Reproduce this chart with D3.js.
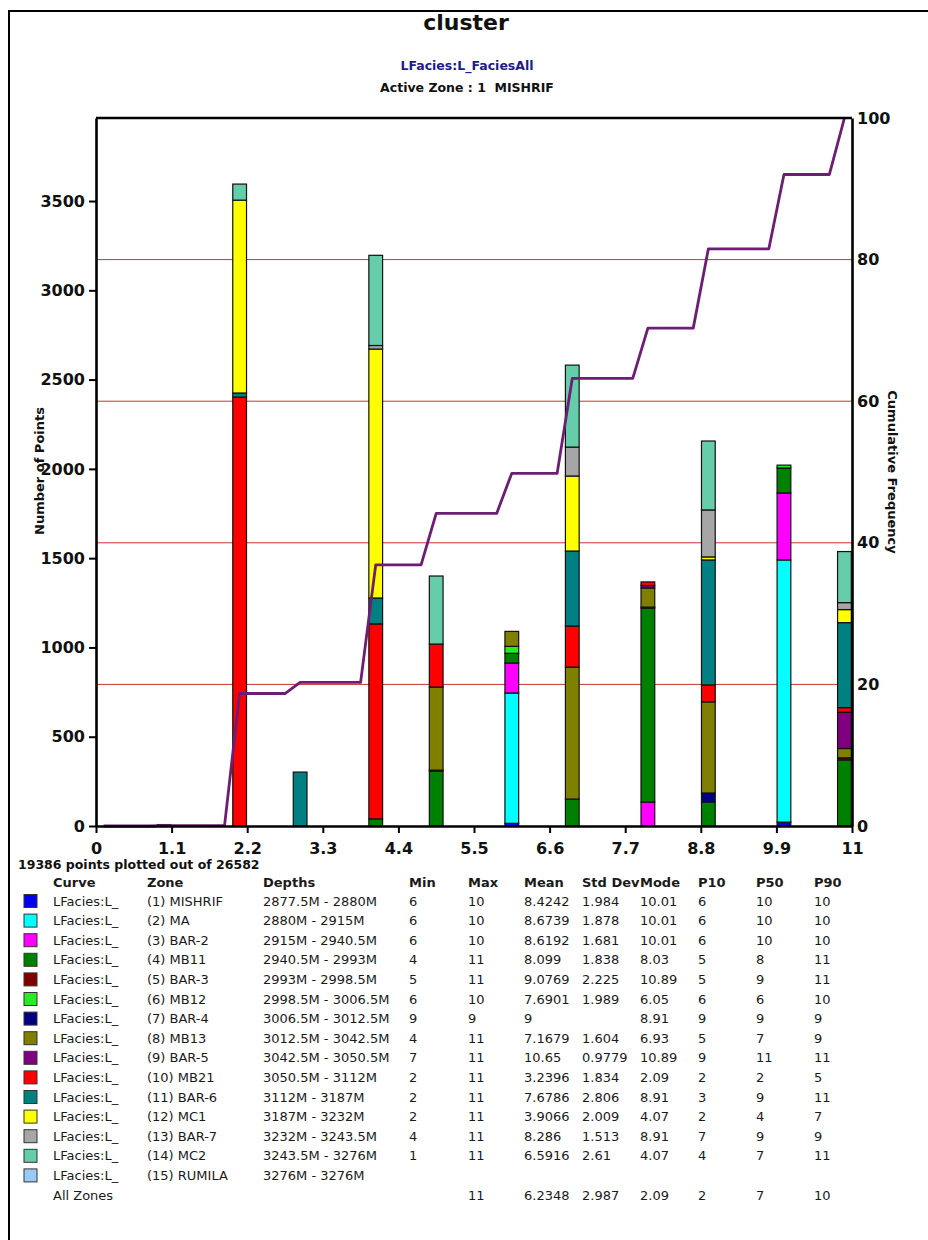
<!DOCTYPE html>
<html>
<head>
<meta charset="utf-8">
<script src="https://cdn.jsdelivr.net/npm/d3@7"></script>
<style>
  body { margin: 0; background: #fff; }
  svg { display: block; }
  text { font-family: "DejaVu Sans", Verdana, sans-serif; }
</style>
</head>
<body>
<svg id="chart" width="928" height="1240"></svg>
<script>
// ---- histogram bins (facies value at bin centre) ----
const binCenters = [0.99, 2.09, 2.97, 4.07, 4.95, 6.05, 6.93, 8.03, 8.91, 10.01, 10.89];
const binWidth = 0.22;

// ---- point counts per zone, one value per bin above ----
const cMISHRIF = [0, 0, 0, 0, 0, 15, 0, 0, 0, 22, 0];
const cMA      = [0, 0, 0, 0, 0, 730, 0, 0, 0, 1468, 0];
const cBAR2    = [0, 0, 0, 0, 0, 168, 0, 134, 0, 375, 0];
const cMB11    = [0, 0, 0, 40, 308, 54, 151, 1086, 134, 140, 370];
const cBAR3    = [0, 0, 0, 0, 5, 0, 0, 6, 0, 0, 12];
const cMB12    = [0, 0, 0, 0, 0, 39, 0, 0, 0, 16, 0];
const cBAR4    = [0, 0, 0, 0, 0, 0, 0, 0, 51, 0, 0];
const cMB13    = [0, 0, 0, 0, 465, 84, 739, 107, 510, 0, 52];
const cBAR5    = [0, 0, 0, 0, 0, 0, 0, 14, 0, 0, 203];
const cMB21    = [0, 2402, 0, 1092, 241, 0, 230, 20, 95, 0, 26];
const cBAR6    = [0, 23, 302, 145, 0, 0, 420, 0, 700, 0, 476];
const cMC1     = [0, 1080, 0, 1394, 0, 0, 420, 0, 17, 0, 73];
const cBAR7    = [0, 0, 0, 20, 0, 0, 162, 0, 263, 0, 39];
const cMC2     = [8, 90, 0, 505, 381, 0, 459, 0, 386, 0, 286];
const cRUMILA  = [0, 0, 0, 0, 0, 0, 0, 0, 0, 0, 0];
const zoneCounts = [cMISHRIF, cMA, cBAR2, cMB11, cBAR3, cMB12, cBAR4, cMB13,
                    cBAR5, cMB21, cBAR6, cMC1, cBAR7, cMC2, cRUMILA];

// ---- zone table ----
const zoneNames = ["(1) MISHRIF", "(2) MA", "(3) BAR-2", "(4) MB11", "(5) BAR-3", "(6) MB12",
  "(7) BAR-4", "(8) MB13", "(9) BAR-5", "(10) MB21", "(11) BAR-6", "(12) MC1", "(13) BAR-7",
  "(14) MC2", "(15) RUMILA"];
const zoneColors = ["#0000ee", "#00ffff", "#ff00ff", "#008000", "#800000", "#22ee22",
  "#000080", "#808000", "#800080", "#ff0000", "#008080", "#ffff00", "#a6a6a6",
  "#66cdaa", "#99ccf5"];
const zoneDepths = ["2877.5M - 2880M", "2880M - 2915M", "2915M - 2940.5M", "2940.5M - 2993M",
  "2993M - 2998.5M", "2998.5M - 3006.5M", "3006.5M - 3012.5M", "3012.5M - 3042.5M",
  "3042.5M - 3050.5M", "3050.5M - 3112M", "3112M - 3187M", "3187M - 3232M",
  "3232M - 3243.5M", "3243.5M - 3276M", "3276M - 3276M"];
const zoneMin  = ["6", "6", "6", "4", "5", "6", "9", "4", "7", "2", "2", "2", "4", "1", ""];
const zoneMax  = ["10", "10", "10", "11", "11", "10", "9", "11", "11", "11", "11", "11", "11", "11", ""];
const zoneMean = ["8.4242", "8.6739", "8.6192", "8.099", "9.0769", "7.6901", "9", "7.1679",
  "10.65", "3.2396", "7.6786", "3.9066", "8.286", "6.5916", ""];
const zoneStd  = ["1.984", "1.878", "1.681", "1.838", "2.225", "1.989", "", "1.604",
  "0.9779", "1.834", "2.806", "2.009", "1.513", "2.61", ""];
const zoneMode = ["10.01", "10.01", "10.01", "8.03", "10.89", "6.05", "8.91", "6.93",
  "10.89", "2.09", "8.91", "4.07", "8.91", "4.07", ""];
const zoneP10  = ["6", "6", "6", "5", "5", "6", "9", "5", "9", "2", "3", "2", "7", "4", ""];
const zoneP50  = ["10", "10", "10", "8", "9", "6", "9", "7", "11", "2", "9", "4", "9", "7", ""];
const zoneP90  = ["10", "10", "10", "11", "11", "10", "9", "9", "11", "5", "11", "7", "9", "11", ""];
const allZonesRow = ["", "11", "6.2348", "2.987", "2.09", "2", "7", "10"];

// ---- axis ticks ----
const xTicks = [0, 1.1, 2.2, 3.3, 4.4, 5.5, 6.6, 7.7, 8.8, 9.9, 11];
const yTicks = [0, 500, 1000, 1500, 2000, 2500, 3000, 3500];
const rTicks = [0, 20, 40, 60, 80, 100];
const gridTicks = [20, 40, 60, 80];

const svg = d3.select("#chart");

// outer frame (left and top edges)
svg.append("path")
  .attr("d", "M9,1240 V11 H928")
  .attr("fill", "none").attr("stroke", "#000").attr("stroke-width", 2);

// titles
svg.append("text").attr("x", 466).attr("y", 30).attr("text-anchor", "middle")
  .attr("font-size", 22).attr("font-weight", "bold").attr("fill", "#111").text("cluster");
svg.append("text").attr("x", 467).attr("y", 70).attr("text-anchor", "middle")
  .attr("font-size", 12.5).attr("font-weight", "bold").attr("fill", "#1c1c8c")
  .text("LFacies:L_FaciesAll");
svg.append("text").attr("x", 467).attr("y", 92).attr("text-anchor", "middle")
  .attr("font-size", 12.5).attr("font-weight", "bold").attr("fill", "#111")
  .text("Active Zone : 1\u00a0\u00a0MISHRIF");

// scales
const x = d3.scaleLinear().domain([0, 11]).range([96, 852]);
const y = d3.scaleLinear().domain([0, 3965]).range([826, 118]);
const yR = d3.scaleLinear().domain([0, 100]).range([826, 118]);

// horizontal guide lines from the cumulative axis
svg.append("g").selectAll("line").data(gridTicks).join("line")
  .attr("x1", x(0)).attr("x2", x(11))
  .attr("y1", d => yR(d)).attr("y2", d => yR(d))
  .attr("stroke", "#c83434").attr("stroke-width", 1);

// stacked bars, stacked in zone order
const rows = binCenters.map((c, i) => {
  const r = { center: c };
  zoneCounts.forEach((arr, k) => { r[k] = arr[i]; });
  return r;
});
const stack = d3.stack().keys(d3.range(zoneCounts.length));
const series = stack(rows);
const barHalf = 0.1;

const barG = svg.append("g");
series.forEach((s, k) => {
  barG.selectAll(null)
    .data(s.filter(d => d[1] - d[0] > 0))
    .join("rect")
    .attr("x", d => x(d.data.center - barHalf))
    .attr("width", d => x(d.data.center + barHalf) - x(d.data.center - barHalf))
    .attr("y", d => y(d[1]))
    .attr("height", d => y(d[0]) - y(d[1]))
    .attr("fill", zoneColors[k])
    .attr("stroke", "#111").attr("stroke-width", 1.2);
});

// cumulative frequency, connecting bin centres
const totals = binCenters.map((c, i) => d3.sum(zoneCounts, arr => arr[i]));
const grand = d3.sum(totals);
const cumPts = [[binWidth / 2, 0]];
let running = 0;
binCenters.forEach((c, i) => {
  const prev = running / grand * 100;
  cumPts.push([c - binWidth, prev]);
  running += totals[i];
  cumPts.push([c, running / grand * 100]);
});
svg.append("path")
  .datum(cumPts)
  .attr("fill", "none")
  .attr("stroke", "#6e1d74")
  .attr("stroke-width", 2.8)
  .attr("stroke-linejoin", "round")
  .attr("d", d3.line().x(d => x(d[0])).y(d => yR(d[1])));

// axes
function styleAxis(g) {
  g.select(".domain").attr("stroke", "#000").attr("stroke-width", 2.6);
  g.selectAll(".tick line").attr("stroke", "#000").attr("stroke-width", 2);
  g.selectAll(".tick text").attr("font-size", 16).attr("font-weight", "bold")
    .attr("fill", "#111").attr("font-family", "DejaVu Sans, Verdana, sans-serif");
}
svg.append("g").attr("transform", "translate(0,826)")
  .call(d3.axisBottom(x).tickValues(xTicks).tickFormat(d3.format("~g"))
    .tickSize(7).tickSizeOuter(0).tickPadding(10))
  .call(styleAxis);
svg.append("g").attr("transform", "translate(96,0)")
  .call(d3.axisLeft(y).tickValues(yTicks).tickFormat(d3.format("d"))
    .tickSize(7).tickSizeOuter(0).tickPadding(4))
  .call(styleAxis);
svg.append("g").attr("transform", "translate(852,0)")
  .call(d3.axisRight(yR).tickValues(rTicks).tickFormat(d3.format("d"))
    .tickSize(0).tickSizeOuter(0).tickPadding(5))
  .call(styleAxis);
// top frame line of the plot
svg.append("line").attr("x1", x(0)).attr("x2", x(11)).attr("y1", 118).attr("y2", 118)
  .attr("stroke", "#000").attr("stroke-width", 2.6);

// axis titles
svg.append("text").attr("transform", "translate(44,471) rotate(-90)")
  .attr("text-anchor", "middle").attr("font-size", 13).attr("font-weight", "bold")
  .attr("fill", "#111").text("Number of Points");
svg.append("text").attr("transform", "translate(888,472) rotate(90)")
  .attr("text-anchor", "middle").attr("font-size", 13).attr("font-weight", "bold")
  .attr("fill", "#111").text("Cumulative Frequency");

// points summary
svg.append("text").attr("x", 18).attr("y", 869)
  .attr("font-size", 12.5).attr("font-weight", "bold").attr("fill", "#111")
  .text("19386 points plotted out of 26582");

// statistics table
const colX = [53, 147, 263, 409, 468, 524, 582, 640, 698, 756, 814];
const headers = ["Curve", "Zone", "Depths", "Min", "Max", "Mean", "Std Dev", "Mode", "P10", "P50", "P90"];
const tbl = svg.append("g").attr("font-size", 13).attr("fill", "#1a1a1a");
tbl.selectAll("text.h").data(headers).join("text")
  .attr("class", "h").attr("x", (d, i) => colX[i]).attr("y", 887)
  .attr("font-weight", "bold").text(d => d);

const rowY = i => 901 + i * 19.6;
zoneNames.forEach((name, i) => {
  const cy = rowY(i);
  tbl.append("rect").attr("x", 24).attr("y", cy - 6.5).attr("width", 13).attr("height", 13)
    .attr("fill", zoneColors[i]).attr("stroke", "#333").attr("stroke-width", 1);
  const cells = ["LFacies:L_", name, zoneDepths[i], zoneMin[i], zoneMax[i], zoneMean[i],
    zoneStd[i], zoneMode[i], zoneP10[i], zoneP50[i], zoneP90[i]];
  cells.forEach((t, j) => {
    if (t === "") return;
    tbl.append("text").attr("x", colX[j]).attr("y", cy + 4.5).text(t);
  });
});
const lastY = rowY(zoneNames.length);
tbl.append("text").attr("x", colX[0]).attr("y", lastY + 4.5).text("All Zones");
allZonesRow.forEach((t, j) => {
  if (t === "") return;
  tbl.append("text").attr("x", colX[j + 3]).attr("y", lastY + 4.5).text(t);
});
</script>
</body>
</html>
